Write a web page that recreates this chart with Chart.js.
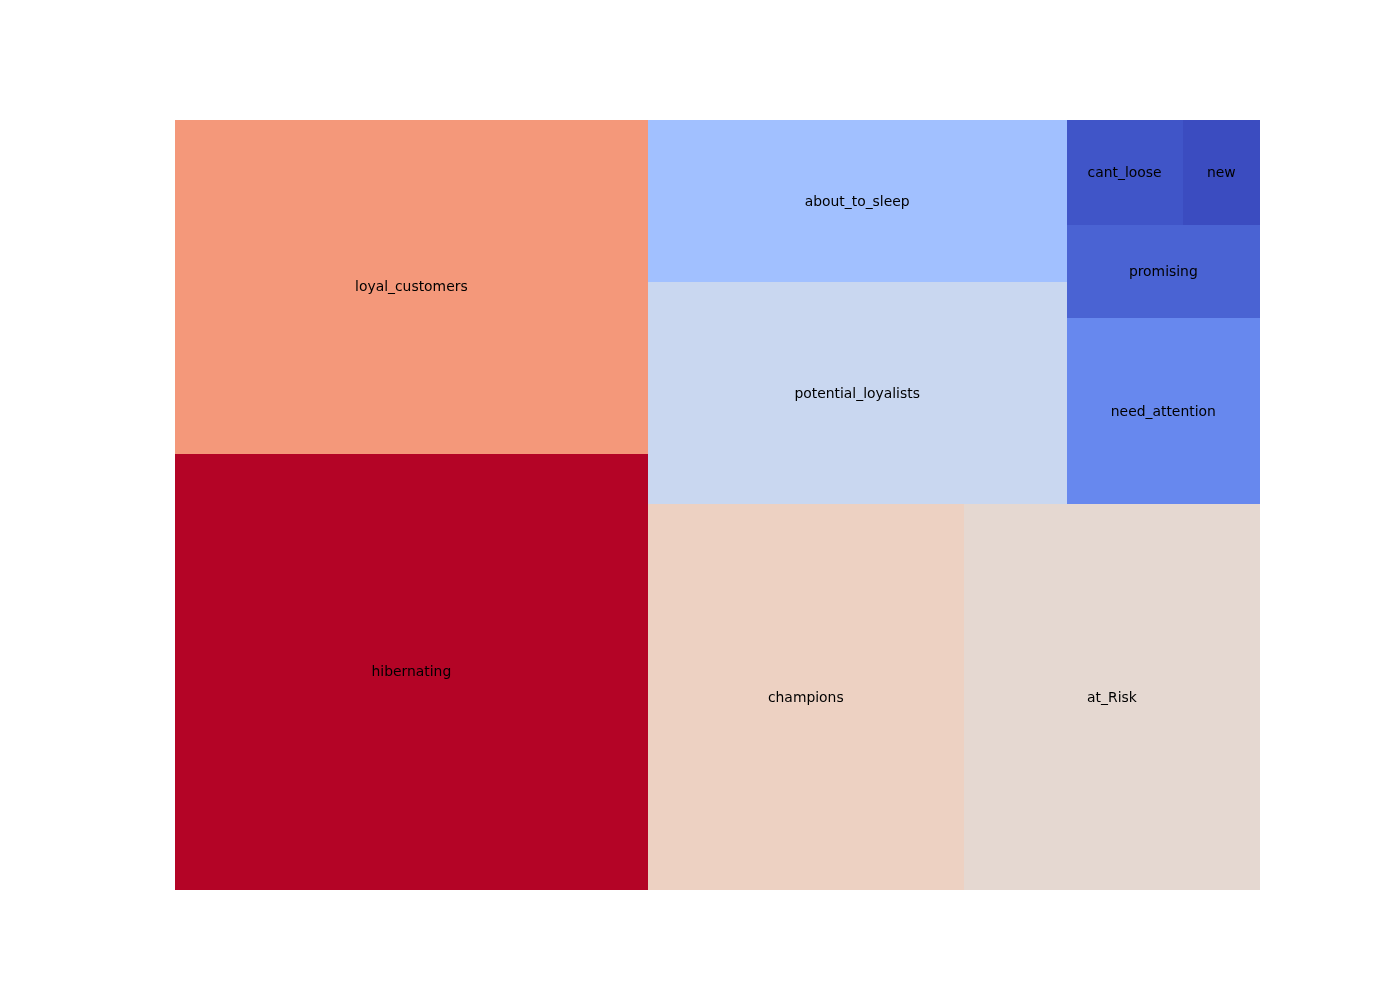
<!DOCTYPE html>
<html>
<head>
<meta charset="utf-8">
<script src="https://cdn.jsdelivr.net/npm/chart.js@4"></script>
<style>
html,body{margin:0;padding:0;background:#fff;}
#wrap{width:1400px;height:1000px;}
</style>
</head>
<body>
<div id="wrap"><canvas id="c" width="1400" height="1000"></canvas></div>
<script>
// Data (RFM segment counts)
const segments = ["hibernating","loyal_customers","champions","at_Risk","potential_loyalists","about_to_sleep","need_attention","promising","cant_loose","new"];
const counts = [1071, 819, 633, 593, 484, 352, 187, 94, 63, 42];
const colors = ["#B40426","#F4987A","#EDD1C2","#E5D8D1","#C9D7F0","#A1C0FF","#6788EE","#4A63D3","#4055C8","#3B4CC0"];

// squarify layout (same algorithm as Python squarify), in data units 0..100
function normalizeSizes(sizes, dx, dy){
  const t = sizes.reduce((a,b)=>a+b,0);
  return sizes.map(s => s*dx*dy/t);
}
function layoutrow(sizes,x,y,dx,dy){
  const cov = sizes.reduce((a,b)=>a+b,0); const w = cov/dy; const r=[];
  for(const s of sizes){ r.push({x:x,y:y,dx:w,dy:s/w}); y += s/w; }
  return r;
}
function layoutcol(sizes,x,y,dx,dy){
  const cov = sizes.reduce((a,b)=>a+b,0); const h = cov/dx; const r=[];
  for(const s of sizes){ r.push({x:x,y:y,dx:s/h,dy:h}); x += s/h; }
  return r;
}
function layout(sizes,x,y,dx,dy){ return dx>=dy ? layoutrow(sizes,x,y,dx,dy) : layoutcol(sizes,x,y,dx,dy); }
function leftover(sizes,x,y,dx,dy){
  const cov = sizes.reduce((a,b)=>a+b,0);
  if(dx>=dy){ const w=cov/dy; return [x+w,y,dx-w,dy]; }
  const h=cov/dx; return [x,y+h,dx,dy-h];
}
function worst(sizes,x,y,dx,dy){
  return Math.max(...layout(sizes,x,y,dx,dy).map(r=>Math.max(r.dx/r.dy,r.dy/r.dx)));
}
function squarify(sizes,x,y,dx,dy){
  if(sizes.length===0) return [];
  if(sizes.length===1) return layout(sizes,x,y,dx,dy);
  let i=1;
  while(i<sizes.length && worst(sizes.slice(0,i),x,y,dx,dy) >= worst(sizes.slice(0,i+1),x,y,dx,dy)) i++;
  const cur=sizes.slice(0,i), rem=sizes.slice(i);
  const lo=leftover(cur,x,y,dx,dy);
  return layout(cur,x,y,dx,dy).concat(squarify(rem,lo[0],lo[1],lo[2],lo[3]));
}
const rects = squarify(normalizeSizes(counts,100,100),0,0,100,100);

const treemapPlugin = {
  id:'treemap',
  beforeDatasetsDraw(chart){
    const ctx=chart.ctx, xs=chart.scales.x, ys=chart.scales.y;
    ctx.save();
    rects.forEach((r,i)=>{
      const x0=Math.round(xs.getPixelForValue(r.x)), x1=Math.round(xs.getPixelForValue(r.x+r.dx));
      const y0=Math.round(ys.getPixelForValue(r.y+r.dy)), y1=Math.round(ys.getPixelForValue(r.y));
      ctx.fillStyle=colors[i];
      ctx.fillRect(x0,y0,x1-x0,y1-y0);
    });
    ctx.restore();
  },
  afterDatasetsDraw(chart){
    const ctx=chart.ctx, xs=chart.scales.x, ys=chart.scales.y;
    ctx.save();
    ctx.fillStyle='#000';
    ctx.font='13.9px "DejaVu Sans"';
    ctx.textAlign='center';
    ctx.textBaseline='middle';
    rects.forEach((r,i)=>{
      const cx=xs.getPixelForValue(r.x+r.dx/2), cy=ys.getPixelForValue(r.y+r.dy/2);
      ctx.fillText(segments[i],cx,cy+1);
    });
    ctx.restore();
  }
};

new Chart(document.getElementById('c'),{
  type:'scatter',
  data:{datasets:[{
    label:'segments',
    data: rects.map((r,i)=>({x:r.x+r.dx/2,y:r.y+r.dy/2,v:counts[i]})),
    pointRadius:0, pointHoverRadius:0
  }]},
  options:{
    responsive:false, animation:false,
    layout:{padding:{left:175,right:140,top:120,bottom:110}},
    plugins:{legend:{display:false},tooltip:{enabled:false}},
    scales:{
      x:{type:'linear',min:0,max:100,display:false},
      y:{type:'linear',min:0,max:100,display:false}
    }
  },
  plugins:[treemapPlugin]
});
</script>
</body>
</html>
